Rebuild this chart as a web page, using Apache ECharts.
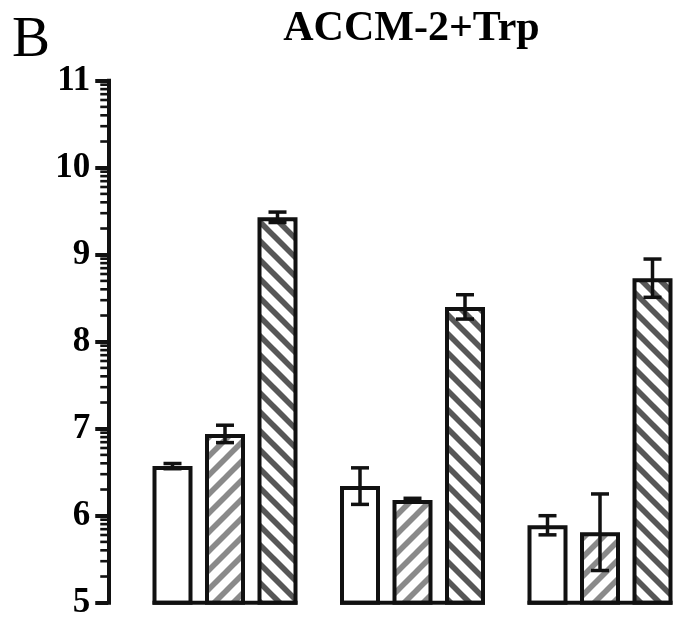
<!DOCTYPE html>
<html>
<head>
<meta charset="utf-8">
<script src="https://cdn.jsdelivr.net/npm/echarts@6/dist/echarts.min.js"></script>
<style>
html,body{margin:0;padding:0;background:#fff;}
#chart{width:673px;height:620px;}
</style>
</head>
<body>
<div id="chart"></div>
<script>
// ---- data ----
var categories = ['G1', 'G2', 'G3'];
var whiteMeans = [6.57, 6.34, 5.89];
var whiteErrs  = [0.03, 0.21, 0.11];
var lightMeans = [6.94, 6.18, 5.81];
var lightErrs  = [0.10, 0.02, 0.44];
var darkMeans  = [9.43, 8.40, 8.73];
var darkErrs   = [0.06, 0.14, 0.22];
var yTicks = [5, 6, 7, 8, 9, 10, 11];
var titleText = 'ACCM-2+Trp';
var panelLabel = 'B';

// ---- style constants ----
var BAR_W = 40, SPACING = 52.5, BORDER = 4;
var GAP = SPACING / BAR_W - 1;
var SERIF = '"Liberation Serif", "DejaVu Serif", serif';
var AXIS_OFFSET = 23;

function stripeTile(color, dir) {
  var P = 19, c = document.createElement('canvas');
  c.width = P; c.height = P;
  var g = c.getContext('2d');
  g.fillStyle = '#fff'; g.fillRect(0, 0, P, P);
  g.strokeStyle = color; g.lineWidth = 5.6; g.lineCap = 'butt';
  for (var o = -P; o <= P; o += P) {
    g.beginPath();
    if (dir === '/') { g.moveTo(o - 2, P + 2); g.lineTo(o + P + 2, -2); }
    else { g.moveTo(o - 2, -2); g.lineTo(o + P + 2, P + 2); }
    g.stroke();
  }
  return c;
}

var chart = echarts.init(document.getElementById('chart'), null, {renderer: 'canvas'});

function barSeries(name, means, fill) {
  return {
    type: 'bar', name: name, data: means, barWidth: BAR_W, barGap: (GAP * 100) + '%',
    itemStyle: {color: fill, borderColor: '#111', borderWidth: BORDER},
    z: 2, clip: true, silent: true
  };
}

function errSeries(means, errs, idx) {
  var d = means.map(function (m, i) { return [i, m, errs[i]]; });
  return {
    type: 'custom', data: d, z: 5, silent: true,
    renderItem: function (params, api) {
      var m = api.value(1), e = api.value(2), c = api.value(0);
      var p = api.coord([c, m]);
      var x = p[0] + (idx - 1) * SPACING;
      var yt = api.coord([c, m + e])[1], yb = api.coord([c, m - e])[1];
      var st = {stroke: '#111', lineWidth: 3.5};
      return {type: 'group', children: [
        {type: 'line', shape: {x1: x, y1: yt, x2: x, y2: yb}, style: st},
        {type: 'line', shape: {x1: x - 9, y1: yt, x2: x + 9, y2: yt}, style: st},
        {type: 'line', shape: {x1: x - 9, y1: yb, x2: x + 9, y2: yb}, style: st}
      ]};
    }
  };
}

// per-group baseline under the bars
var baseSeries = {
  type: 'custom', data: categories.map(function (c, i) { return [i, yTicks[0]]; }), z: 6, silent: true,
  renderItem: function (params, api) {
    var p = api.coord([api.value(0), api.value(1)]);
    var half = SPACING + 20;
    return {type: 'line', shape: {x1: p[0] - half, y1: p[1], x2: p[0] + half, y2: p[1]},
      style: {stroke: '#111', lineWidth: 4}};
  }
};

// logarithmic minor ticks on the y axis (between integer ticks)
var minorVals = [];
for (var t = 0; t < yTicks.length - 1; t++) {
  for (var k = 2; k <= 9; k++) minorVals.push([0, yTicks[t] + Math.log10(k)]);
}
var minorSeries = {
  type: 'custom', data: minorVals, z: 6, silent: true, clip: false,
  renderItem: function (params, api) {
    var y = api.coord([0, api.value(1)])[1];
    var ax = params.coordSys.x - AXIS_OFFSET;
    return {type: 'line', shape: {x1: ax - 8, y1: y, x2: ax, y2: y},
      style: {stroke: '#111', lineWidth: 2.6}};
  }
};

var option = {
  backgroundColor: '#fff',
  animation: false,
  grid: {left: 131.25, top: 80.7, width: 562.5, height: 522, containLabel: false, outerBoundsMode: 'none'},
  xAxis: {
    type: 'category', data: categories,
    axisLine: {show: false}, axisTick: {show: false}, axisLabel: {show: false}, splitLine: {show: false}
  },
  yAxis: {
    type: 'value', min: yTicks[0], max: yTicks[yTicks.length - 1], interval: 1,
    offset: AXIS_OFFSET,
    axisLine: {show: true, lineStyle: {color: '#111', width: 4, cap: 'square'}},
    axisTick: {show: true, length: 13, lineStyle: {color: '#111', width: 4}},
    axisLabel: {color: '#000', fontFamily: SERIF, fontWeight: 'bold', fontSize: 35, margin: 18},
    splitLine: {show: false}
  },
  series: [
    barSeries('white', whiteMeans, '#ffffff'),
    barSeries('light', lightMeans, {image: stripeTile('#8a8a8a', '/'), repeat: 'repeat'}),
    barSeries('dark', darkMeans, {image: stripeTile('#575757', '\\'), repeat: 'repeat'}),
    errSeries(whiteMeans, whiteErrs, 0),
    errSeries(lightMeans, lightErrs, 1),
    errSeries(darkMeans, darkErrs, 2),
    baseSeries,
    minorSeries
  ],
  graphic: [
    {type: 'text', x: 411.5, y: 8, style: {text: titleText, fill: '#000',
      font: 'bold 42px ' + SERIF, textAlign: 'center', textVerticalAlign: 'top'}},
    {type: 'text', x: 12, y: 13, style: {text: panelLabel, fill: '#000',
      font: 'normal 57px ' + SERIF, textAlign: 'left', textVerticalAlign: 'top'}}
  ]
};
chart.setOption(option);
</script>
</body>
</html>
